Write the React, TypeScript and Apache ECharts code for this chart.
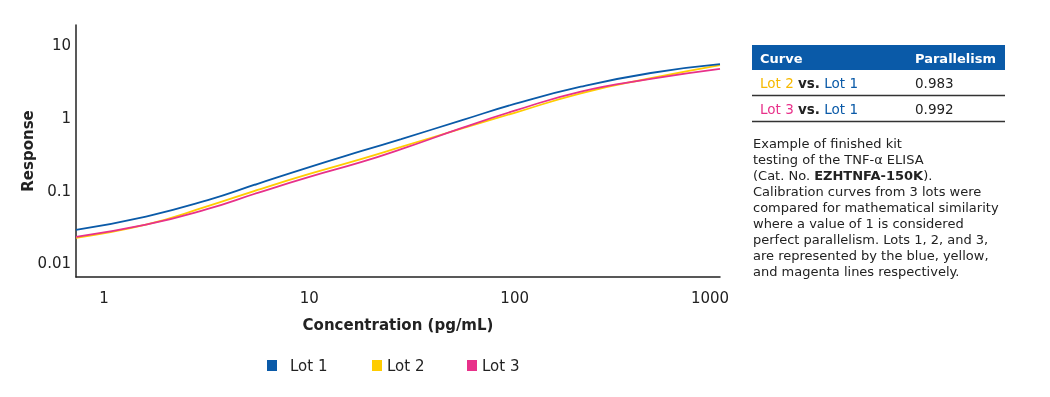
import React, { useEffect, useRef } from "react";
import * as echarts from "echarts";

// Concentrations (pg/mL) at which values were read
const concentrations = [0.73, 1.6, 3.2, 5.6, 10, 18, 28, 55, 100, 210, 460, 1000];
const lot1 = [0.0288, 0.044, 0.074, 0.124, 0.21, 0.35, 0.51, 0.92, 1.55, 2.67, 4.12, 5.45];
const lot2 = [0.0225, 0.034, 0.061, 0.102, 0.169, 0.272, 0.397, 0.71, 1.17, 2.17, 3.49, 5.3];
const lot3 = [0.0232, 0.034, 0.056, 0.093, 0.154, 0.247, 0.37, 0.72, 1.25, 2.29, 3.41, 4.68];

const seriesNames = ["Lot 1", "Lot 2", "Lot 3"];
const seriesColors = ["#0a5aa8", "#ffcc00", "#e8318a"];

const tableHeader = ["Curve", "Parallelism"];
const tableRows = [
  { lot: "Lot 2", color: "#f7b900", value: "0.983" },
  { lot: "Lot 3", color: "#e8318a", value: "0.992" },
];

const FONT = "DejaVu Sans, Verdana, sans-serif";
const TXT = "#222";

export default function App() {
  const ref = useRef<HTMLDivElement>(null);
  useEffect(() => {
    const chart = echarts.init(ref.current!, null, { renderer: "svg" });
    const mk = (vals: number[]) => concentrations.map((c, i) => [c, vals[i]]);
    const allData = [lot1, lot2, lot3];

    const graphics: any[] = [
      { type: "rect", shape: { x: 752, y: 45, width: 253, height: 25 }, style: { fill: "#0a5aa8" } },
      { type: "text", x: 760, y: 58, style: { text: tableHeader[0], fill: "#fff", font: `bold 13px ${FONT}`, verticalAlign: "middle" } },
      { type: "text", x: 915, y: 58, style: { text: tableHeader[1], fill: "#fff", font: `bold 13px ${FONT}`, verticalAlign: "middle" } },
    ];
    tableRows.forEach((r, i) => {
      const cy = 83 + i * 26;
      graphics.push({
        type: "text",
        x: 760,
        y: cy,
        style: {
          text: `{a|${r.lot}} {b|vs.} {c|Lot 1}`,
          verticalAlign: "middle",
          font: `13.5px ${FONT}`,
          rich: {
            a: { fill: r.color, font: `13.5px ${FONT}` },
            b: { fill: TXT, font: `bold 13.5px ${FONT}` },
            c: { fill: "#0a5aa8", font: `13.5px ${FONT}` },
          },
        },
      });
      graphics.push({ type: "text", x: 915, y: cy, style: { text: r.value, fill: TXT, font: `13.5px ${FONT}`, verticalAlign: "middle" } });
      graphics.push({ type: "line", shape: { x1: 752, y1: cy + 12.5, x2: 1005, y2: cy + 12.5 }, style: { stroke: "#333", lineWidth: 1.5 } });
    });
    graphics.push({
      type: "text",
      x: 753,
      y: 135,
      style: {
        text:
          "Example of finished kit\ntesting of the TNF-α ELISA\n(Cat. No. {b|EZHTNFA-150K}).\nCalibration curves from 3 lots were\ncompared for mathematical similarity\nwhere a value of 1 is considered\nperfect parallelism. Lots 1, 2, and 3,\nare represented by the blue, yellow,\nand magenta lines respectively.",
        fill: TXT,
        font: `13px ${FONT}`,
        lineHeight: 16.1,
        rich: { b: { font: `bold 13px ${FONT}`, fill: TXT, lineHeight: 16.1 } },
      },
    });

    const legendPos = [
      { left: 262, pad: 8 },
      { left: 367, pad: 0 },
      { left: 462, pad: 0 },
    ];

    chart.setOption({
      animation: false,
      textStyle: { fontFamily: FONT },
      grid: { left: 76, right: 330, top: 25, bottom: 120 },
      legend: legendPos.map((p, i) => ({
        data: [seriesNames[i]],
        left: p.left,
        top: 353,
        icon: "rect",
        itemWidth: 10,
        itemHeight: 11,
        textStyle: { fontSize: 15, color: TXT, fontFamily: FONT, padding: [0, 0, 0, p.pad] },
      })),
      xAxis: {
        type: "log",
        logBase: 10,
        min: 0.73,
        max: 1000,
        name: "Concentration (pg/mL)",
        nameLocation: "middle",
        nameGap: 40,
        nameMoveOverlap: false,
        nameTextStyle: { fontSize: 15, fontWeight: "bold", color: TXT, fontFamily: FONT },
        axisLine: { lineStyle: { color: "#222", width: 1.5 } },
        axisTick: { show: false },
        splitLine: { show: false },
        axisLabel: {
          showMinLabel: false,
          fontSize: 15,
          color: TXT,
          margin: 13,
          formatter: (v: number) => {
            const s = String(+v.toPrecision(3));
            return v >= 999 ? `{e|${s}}` : s;
          },
          rich: { e: { fontSize: 15, color: TXT, fontFamily: FONT, padding: [0, 20, 0, 0] } },
        },
      },
      yAxis: {
        type: "log",
        logBase: 10,
        min: 0.0065,
        max: 18.8,
        name: "Response",
        nameLocation: "middle",
        nameGap: 41,
        nameMoveOverlap: false,
        nameTextStyle: { fontSize: 15, fontWeight: "bold", color: TXT, fontFamily: FONT },
        axisLine: { lineStyle: { color: "#222", width: 1.5 } },
        axisTick: { show: false },
        splitLine: { show: false },
        axisLabel: {
          showMinLabel: false,
          showMaxLabel: false,
          fontSize: 15,
          color: TXT,
          margin: 5,
          formatter: (v: number) => String(+v.toPrecision(3)),
        },
      },
      series: seriesNames.map((n, i) => ({
        name: n,
        type: "line",
        data: mk(allData[i]),
        smooth: 0.5,
        symbol: "none",
        color: seriesColors[i],
        lineStyle: { width: 1.8, color: seriesColors[i] },
        z: i === 0 ? 3 : i === 2 ? 4 : 2,
      })),
      graphic: graphics,
    });
    return () => chart.dispose();
  }, []);
  return <div ref={ref} style={{ position: "fixed", left: 0, top: 0, width: 1050, height: 397 }} />;
}
